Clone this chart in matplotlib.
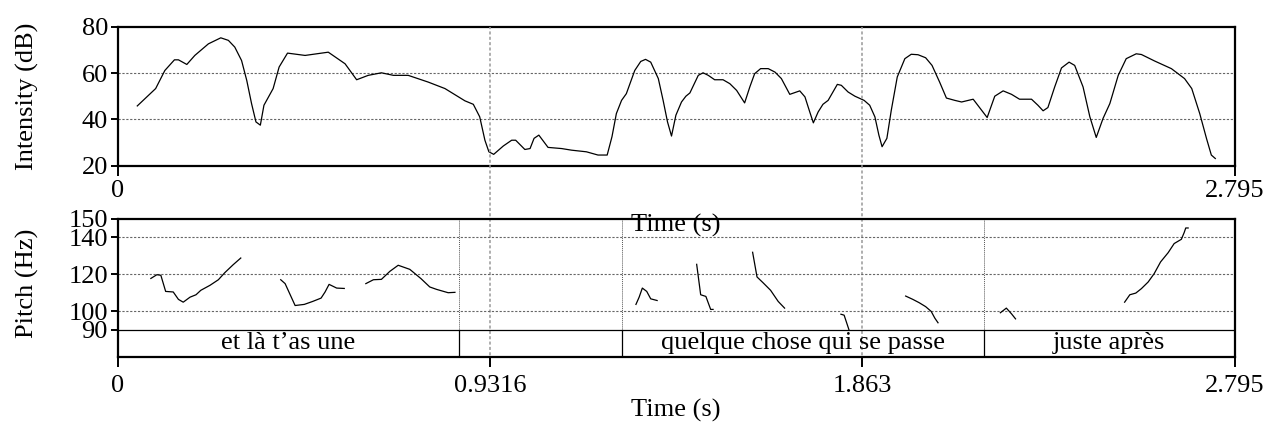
import matplotlib
matplotlib.use("Agg")
import matplotlib.pyplot as plt
from matplotlib.transforms import blended_transform_factory

plt.rcParams['font.family'] = ['Liberation Serif', 'DejaVu Serif']
plt.rcParams['font.size'] = 19

# intensity contour (s, dB)
int_t = [0.049, 0.077, 0.095, 0.118, 0.142, 0.152, 0.173, 0.193, 0.227, 0.258, 0.277, 0.293,
         0.310, 0.323, 0.335, 0.346, 0.357, 0.366, 0.389, 0.404, 0.425, 0.469, 0.527, 0.569,
         0.598, 0.627, 0.660, 0.690, 0.727, 0.777, 0.819, 0.869, 0.890, 0.906, 0.919, 0.929,
         0.941, 0.965, 0.986, 0.996, 1.019, 1.032, 1.042, 1.054, 1.077, 1.111, 1.136, 1.173,
         1.202, 1.225, 1.237, 1.248, 1.261, 1.273, 1.294, 1.309, 1.321, 1.334, 1.353, 1.365,
         1.376, 1.386, 1.397, 1.411, 1.422, 1.432, 1.453, 1.465, 1.478, 1.494, 1.515, 1.532,
         1.549, 1.569, 1.582, 1.594, 1.609, 1.628, 1.645, 1.661, 1.682, 1.707, 1.720, 1.732,
         1.741, 1.753, 1.765, 1.778, 1.801, 1.811, 1.828, 1.845, 1.868, 1.882, 1.895, 1.905,
         1.913, 1.925, 1.936, 1.951, 1.970, 1.986, 2.003, 2.022, 2.038, 2.057, 2.074, 2.095,
         2.112, 2.141, 2.157, 2.176, 2.195, 2.216, 2.237, 2.257, 2.287, 2.303, 2.316, 2.328,
         2.345, 2.362, 2.381, 2.395, 2.416, 2.433, 2.449, 2.466, 2.483, 2.504, 2.524, 2.549,
         2.562, 2.595, 2.637, 2.670, 2.688, 2.708, 2.725, 2.737, 2.747]
int_db = [45.8, 50.4, 53.3, 61.1, 65.7, 65.7, 63.7, 67.6, 72.6, 75.2, 74.1, 71.2,
          65.4, 56.8, 46.8, 38.9, 37.5, 46.1, 53.3, 62.6, 68.6, 67.6, 69.0, 64.0,
          57.1, 59.0, 60.1, 59.0, 59.0, 56.1, 53.3, 48.0, 46.5, 41.1, 31.0, 26.0,
          24.9, 28.5, 31.0, 31.0, 27.0, 27.4, 31.8, 33.2, 27.9, 27.4, 26.7, 26.0,
          24.6, 24.6, 32.5, 42.5, 48.2, 51.1, 61.1, 65.0, 65.9, 64.7, 57.6, 48.2,
          38.9, 32.8, 41.8, 47.5, 50.0, 51.4, 59.0, 60.1, 59.0, 57.1, 57.1, 55.4,
          52.5, 47.1, 54.0, 59.7, 61.9, 61.9, 60.4, 57.6, 50.8, 52.3, 49.7, 43.2,
          38.5, 43.2, 46.5, 48.2, 55.1, 54.7, 51.8, 50.0, 48.2, 46.1, 41.1, 33.2,
          28.2, 31.8, 43.9, 58.3, 66.2, 68.1, 67.9, 66.6, 63.3, 56.1, 49.2, 48.2,
          47.5, 48.7, 45.1, 40.8, 50.0, 52.3, 50.8, 48.7, 48.7, 46.1, 43.7, 45.1,
          54.0, 62.2, 64.7, 63.3, 54.0, 41.1, 32.2, 40.4, 46.8, 59.0, 66.2, 68.3,
          68.0, 65.2, 61.9, 57.6, 53.3, 42.5, 31.7, 24.6, 23.1]

# pitch contour, voiced stretches (s, Hz)
pitch_t = [
    [0.083, 0.098, 0.108, 0.120, 0.139, 0.152, 0.164, 0.181, 0.196, 0.208, 0.231, 0.252, 0.268, 0.289, 0.308],
    [0.408, 0.419, 0.444, 0.467, 0.488, 0.509, 0.519, 0.529, 0.548, 0.567],
    [0.621, 0.640, 0.660, 0.681, 0.702, 0.731, 0.759, 0.781, 0.798, 0.827, 0.844],
    [1.297, 1.305, 1.313, 1.324, 1.334, 1.350],
    [1.449, 1.459, 1.472, 1.484, 1.490],
    [1.589, 1.600, 1.615, 1.634, 1.653, 1.669],
    [1.810, 1.818, 1.830],
    [1.972, 1.990, 2.006, 2.022, 2.036, 2.045, 2.053],
    [2.209, 2.224, 2.237, 2.247],
    [2.520, 2.533, 2.548, 2.562, 2.579, 2.594, 2.610, 2.629, 2.644, 2.662, 2.669, 2.673, 2.679],
]
pitch_hz = [
    [117.8, 119.8, 119.5, 110.8, 110.5, 106.5, 105.0, 107.7, 109.0, 111.4, 114.1, 117.1, 120.9, 125.2, 128.8],
    [117.1, 115.0, 103.2, 103.8, 105.4, 107.2, 110.5, 114.6, 112.6, 112.4],
    [115.0, 117.1, 117.3, 121.6, 124.9, 122.7, 117.7, 113.2, 111.9, 110.1, 110.3],
    [103.8, 107.7, 112.6, 110.8, 106.8, 105.9],
    [125.4, 109.0, 108.1, 101.1, 101.1],
    [131.9, 118.6, 115.5, 111.4, 105.4, 101.8],
    [98.5, 98.0, 90.2],
    [108.3, 106.5, 104.7, 102.6, 100.0, 96.4, 93.9],
    [99.3, 101.8, 98.7, 96.0],
    [105.0, 109.0, 109.9, 112.3, 115.9, 120.4, 126.7, 131.7, 136.6, 138.9, 142.5, 145.0, 145.0],
]

# text grid tier
tier_bounds = [0, 0.855, 1.261, 2.167, 2.795]
tier_labels = ["et là t’as une", "", "quelque chose qui se passe", "juste après"]

t_end = 2.795
time_marks = [0.9316, 1.863]
db_ticks = [20, 40, 60, 80]
db_grid = [40, 60]
hz_ticks = [90, 100, 120, 140, 150]
hz_grid = [100, 120, 140]

W, H = 1267, 426
fig = plt.figure(figsize=(W / 100, H / 100), dpi=100)

x0, x1 = 117.7, 1234.5
def box(top, bottom):
    return [x0 / W, 1 - bottom / H, (x1 - x0) / W, (bottom - top) / H]

ax1 = fig.add_axes(box(26.7, 165.7))
ax2 = fig.add_axes(box(218.7, 356.7))
ax2.set_facecolor('none')

grid_kw = dict(color='#666666', lw=0.8, ls=(0, (2, 1.5)), zorder=1)

# intensity
ax1.plot(int_t, int_db, color='black', lw=0.9, zorder=3)
ax1.set_xlim(0, t_end)
ax1.set_ylim(20, 80)
for v in db_grid:
    ax1.axhline(v, **grid_kw)
ax1.set_yticks(db_ticks)
ax1.set_xticks([0, t_end])
ax1.set_xticklabels(['0', '2.795'])
ax1.set_xlabel('Time (s)')
ax1.xaxis.label.set_va('center')
ax1.xaxis.set_label_coords(0.5, -0.43)
ax1.set_ylabel('Intensity (dB)')
ax1.yaxis.label.set_va('center')
ax1.yaxis.set_label_coords(-0.081, 0.5)

# pitch + tier
tier_h = (356.7 - 330.0) / (330.0 - 218.7) * 60
ax2.set_xlim(0, t_end)
ax2.set_ylim(90 - tier_h, 150)
for ts, hs in zip(pitch_t, pitch_hz):
    ax2.plot(ts, hs, color='black', lw=0.9, zorder=3)
for v in hz_grid:
    ax2.axhline(v, **grid_kw)
ax2.axhline(90, color='black', lw=0.9)
for b in tier_bounds[1:-1]:
    ax2.plot([b, b], [90, 150], color='#555555', lw=0.7, ls=(0, (1, 1)))
    ax2.plot([b, b], [90 - tier_h, 90], color='black', lw=0.9)
for a, b, lab in zip(tier_bounds[:-1], tier_bounds[1:], tier_labels):
    ax2.text((a + b) / 2, 90 - tier_h / 2, lab, ha='center', va='center')
ax2.set_yticks(hz_ticks)
ax2.set_xticks([0] + time_marks + [t_end])
ax2.set_xticklabels(['0', '0.9316', '1.863', '2.795'])
ax2.set_xlabel('Time (s)')
ax2.xaxis.label.set_va('center')
ax2.xaxis.set_label_coords(0.5, -0.39)
ax2.set_ylabel('Pitch (Hz)')
ax2.yaxis.label.set_va('center')
ax2.yaxis.set_label_coords(-0.081, 0.534)

# time marks spanning both panels
tr = blended_transform_factory(ax2.transData, fig.transFigure)
for m in time_marks:
    ax2.plot([m, m], [1 - 366 / H, 1 - 26.7 / H], transform=tr, color='#999999',
             lw=1.1, ls=(0, (2, 1.5)), clip_on=False, zorder=0)

for ax in (ax1, ax2):
    for s in ax.spines.values():
        s.set_linewidth(1.6)
    ax.tick_params(axis='y', direction='out', length=5, width=1.4, pad=2)
    ax.tick_params(axis='x', direction='out', length=7, width=1.4, pad=3)
ax2.tick_params(axis='x', pad=6)

fig.savefig('out.png', dpi=100)
